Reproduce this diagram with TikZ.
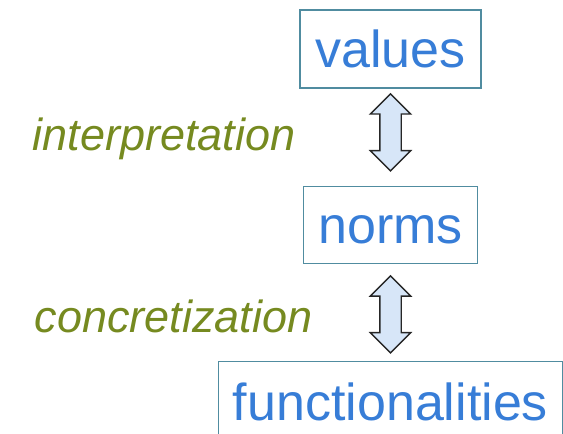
\documentclass[tikz,border=0pt]{standalone}
\usepackage{fontspec}
\setmainfont{Liberation Sans}
\usetikzlibrary{positioning,shapes.arrows,calc}

\definecolor{boxline}{RGB}{80,140,160}
\definecolor{boxtext}{RGB}{55,125,215}
\definecolor{labeltext}{RGB}{118,138,32}
\definecolor{arrowfill}{RGB}{215,230,248}

\begin{document}
\begin{tikzpicture}[x=1pt,y=-1pt,node distance=97pt]

\tikzstyle{box}=[draw=boxline,line width=1.3pt,text=boxtext,inner sep=0pt,text height=37pt,text depth=0pt,font=\fontsize{52}{60}\selectfont]
\tikzstyle{link}=[double arrow,draw=black!85,line width=1.4pt,fill=arrowfill,rotate=90,minimum height=77pt,minimum width=39pt,double arrow head extend=9.5pt,inner sep=10pt]
\tikzstyle{tag}=[anchor=base west,text=labeltext,font=\fontsize{45}{54}\selectfont\itshape]

\useasboundingbox (0,0) rectangle (563,434);

\node [box,minimum width=181pt,minimum height=78pt] (values) at (390.5,49) {values};
\node [box,minimum width=174pt,minimum height=77pt] (norms) [below=of values] {norms};
\node [box,minimum width=344pt,minimum height=80pt] (func) [below=of norms] {functionalities};

\node [link] (interp) at ($(values.south)!0.45!(norms.north)$) {};
\node [link] (concr) at ($(norms.south)!0.52!(func.north)$) {};

\node [tag] (interplabel) at (29,150) {interpretation};
\node [tag] (concrlabel) at (31,332) {concretization};

\end{tikzpicture}
\end{document}
